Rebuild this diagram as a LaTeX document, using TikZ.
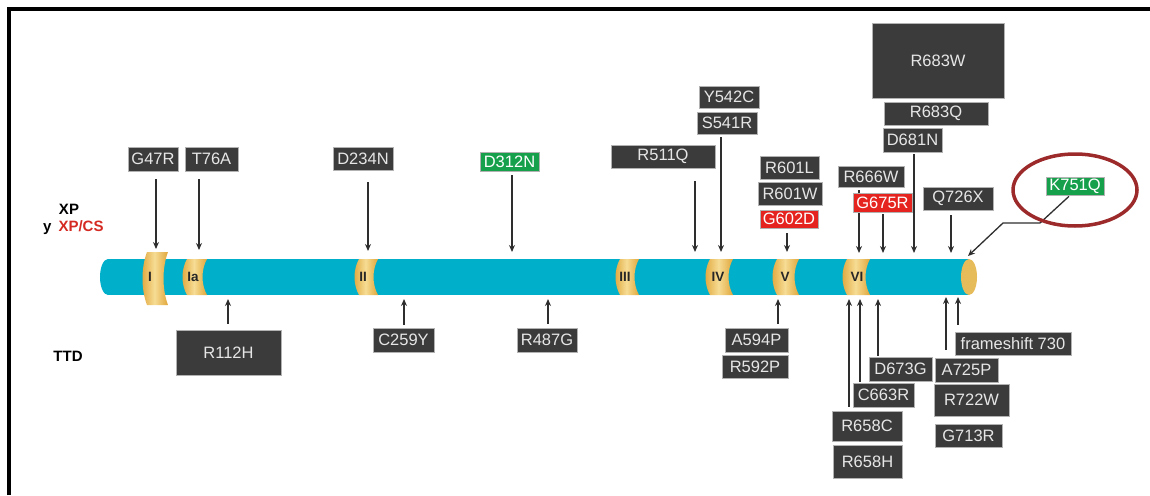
\documentclass[tikz,border=0pt]{standalone}
\usepackage{fontspec}
\setmainfont{Liberation Sans}
\usetikzlibrary{calc,arrows.meta}
\pgfdeclarelayer{bg}
\pgfsetlayers{bg,main}
\definecolor{boxgray}{HTML}{3B3B3B}
\definecolor{boxtext}{HTML}{E6E6E6}
\definecolor{mutgreen}{HTML}{17A04C}
\definecolor{mutred}{HTML}{E52420}
\definecolor{barcyan}{HTML}{00B0CB}
\definecolor{gold}{HTML}{E0A63A}
\definecolor{goldlight}{HTML}{F6DC94}
\definecolor{capgold}{HTML}{E6BB5A}
\definecolor{ringred}{HTML}{9C2A2B}
\definecolor{labred}{HTML}{D42A22}
\definecolor{arrgray}{HTML}{2E2E2E}
\tikzset{
 box/.style={fill=boxgray, draw=gray!60, line width=0.6pt, text=boxtext, inner sep=0pt, font=\fontsize{16.5}{18}\selectfont},
 gbox/.style={box, fill=mutgreen, text=white},
 rbox/.style={box, fill=mutred, text=white},
 wh/.style 2 args={minimum width=#1pt, minimum height=#2pt},
 arr/.style={draw=arrgray, line width=1.3pt, -{Stealth[length=7pt,width=6pt]}},
 motiflab/.style={font=\bfseries\fontsize{13.5}{14}\selectfont, text=black!85, inner sep=0pt},
 sidelab/.style={font=\bfseries\fontsize{15}{16}\selectfont, inner sep=0pt},
}
\newcommand\motif[4]{%
 \shade[left color=gold, right color=gold, middle color=goldlight]
 ({#1+5},#3) .. controls ({#1-1},{#3+(#4-#3)*0.3}) and ({#1-1},{#3+(#4-#3)*0.7}) .. ({#1+5},#4)
 -- (#2,#4) .. controls ({#2-6},{#3+(#4-#3)*0.7}) and ({#2-6},{#3+(#4-#3)*0.3}) .. (#2,#3) -- cycle;}
\newcommand\dn[3]{\draw[arr] ($(#1.south -| #2)+(0,#3)$) -- (#2);}
\newcommand\up[3]{\draw[arr] ($(#1.north -| #2)-(0,#3)$) -- (#2);}
\begin{document}
\begin{tikzpicture}[x=1pt,y=-1pt]
\useasboundingbox (0,0) rectangle (1150,495);
\draw[line width=4pt] (9,495) -- (9,9) -- (1150,9);

% side labels
\node[sidelab] (xp) at (69,209) {XP};
\node[sidelab, anchor=west] (xpcs) at (43,228) {y\hspace{7pt}\textcolor{labred}{XP/CS}};
\node[sidelab] (ttd) at (68,356) {TTD};

% top boxes
\node[box, wh={50}{24}] (g47r) at (153,159) {G47R};
\node[box, wh={53}{24}] (t76a) at (211.5,159) {T76A};
\node[box, wh={60}{23}] (d234n) at (363,158.5) {D234N};
\node[gbox, wh={59}{19}] (d312n) at (509.5,161.5) {D312N};
\node[box, wh={104}{23}] (r511q) at (663,156.5) {R511Q};
\node[box, wh={60}{22}] (y542c) at (729,97) {Y542C};
\node[box, wh={60}{22}] (s541r) at (727,123) {S541R};
\node[box, wh={59}{23}] (r601l) at (789.5,167.5) {R601L};
\node[box, wh={64}{23}] (r601w) at (790,193.5) {R601W};
\node[rbox, wh={58}{18}] (g602d) at (789,219) {G602D};
\node[box, wh={66}{21}] (r666w) at (871,176.5) {R666W};
\node[rbox, wh={59}{19}] (g675r) at (882.5,202.5) {G675R};
\node[box, wh={132}{75}] (r683w) at (938,60.5) {R683W};
\node[box, wh={104}{23}] (r683q) at (936,113.5) {R683Q};
\node[box, wh={59}{24}] (d681n) at (912.5,140) {D681N};
\node[box, wh={70}{23}] (q726x) at (958,198.5) {Q726X};
\node[gbox, wh={58}{18}] (k751q) at (1075,186) {K751Q};
\draw[ringred, line width=3.5pt] (1075,190) ellipse [x radius=62, y radius=36];

% bottom boxes
\node[box, wh={105}{45}] (r112h) at (228.5,352.5) {R112H};
\node[box, wh={61}{24}] (c259y) at (403.5,340) {C259Y};
\node[box, wh={60}{24}] (r487g) at (547,340) {R487G};
\node[box, wh={63}{24}] (a594p) at (756.5,340) {A594P};
\node[box, wh={66}{23}] (r592p) at (755,366.5) {R592P};
\node[box, wh={63}{24}] (d673g) at (900.5,369) {D673G};
\node[box, wh={61}{24}] (c663r) at (883.5,395) {C663R};
\node[box, wh={70}{30}] (r658c) at (867,426) {R658C};
\node[box, wh={69}{33}] (r658h) at (867.5,461.5) {R658H};
\node[box, wh={116}{23}] (fs730) at (1013,343.5) {frameshift 730};
\node[box, wh={63}{24}] (a725p) at (966.5,370) {A725P};
\node[box, wh={75}{32}] (r722w) at (971.5,400) {R722W};
\node[box, wh={67}{23}] (g713r) at (968.5,435.5) {G713R};

% motif labels
\node[motiflab] (mI) at (150,277) {I};
\node[motiflab] (mIa) at (193,277) {Ia};
\node[motiflab] (mII) at (363,277) {II};
\node[motiflab] (mIII) at (625,277) {III};
\node[motiflab] (mIV) at (718,277) {IV};
\node[motiflab] (mV) at (785,277) {V};
\node[motiflab] (mVI) at (857,277) {VI};

% arrow tips
\coordinate (tg47) at (156,249);
\coordinate (tt76) at (199,250);
\coordinate (td234) at (368,251);
\coordinate (td312) at (512,252);
\coordinate (tr511) at (695,252);
\coordinate (ts541) at (721,252);
\coordinate (tg602) at (787,252);
\coordinate (tr666) at (859,253);
\coordinate (tg675) at (883,253);
\coordinate (td681) at (914,253);
\coordinate (tq726) at (951,253);
\coordinate (kb1) at (1040,223);
\coordinate (kb2) at (1003,223);
\coordinate (tk751) at (968,256);
\coordinate (tr112) at (228,299);
\coordinate (tc259) at (404,299);
\coordinate (tr487) at (548,299);
\coordinate (ta594) at (778,299);
\coordinate (tr658) at (849,299);
\coordinate (tc663) at (860,299);
\coordinate (td673) at (878,299);
\coordinate (ta725) at (946,297);
\coordinate (tfs) at (958,297);

\begin{pgfonlayer}{bg}
 % bar
 \fill[barcyan] (108,277) ellipse [x radius=8, y radius=18];
 \fill[barcyan] (108,259) rectangle (969,295);
 \fill[capgold] (969,277) ellipse [x radius=8, y radius=18];
 \motif{142}{168}{252}{305}
 \motif{182}{207}{259}{295}
 \motif{354}{378}{259}{295}
 \motif{615}{639}{259}{295}
 \motif{705}{733}{259}{295}
 \motif{772}{799}{259}{295}
 \motif{842}{870}{259}{295}
 % arrows down
 \dn{g47r}{tg47}{8}
 \dn{t76a}{tt76}{8}
 \dn{d234n}{td234}{12}
 \dn{d312n}{td312}{4}
 \dn{r511q}{tr511}{13}
 \dn{s541r}{ts541}{3}
 \dn{g602d}{tg602}{5}
 \dn{r666w}{tr666}{3}
 \dn{g675r}{tg675}{2}
 \dn{d681n}{td681}{2}
 \dn{q726x}{tq726}{5}
 \draw[arr] ($(k751q.south)+(-6,1)$) -- (kb1) -- (kb2) -- (tk751);
 % arrows up
 \up{r112h}{tr112}{6}
 \up{c259y}{tc259}{3}
 \up{r487g}{tr487}{4}
 \up{a594p}{ta594}{4}
 \up{r658c}{tr658}{4}
 \up{c663r}{tc663}{1}
 \up{d673g}{td673}{1}
 \up{a725p}{ta725}{8}
 \up{fs730}{tfs}{7}
\end{pgfonlayer}
\end{tikzpicture}
\end{document}
